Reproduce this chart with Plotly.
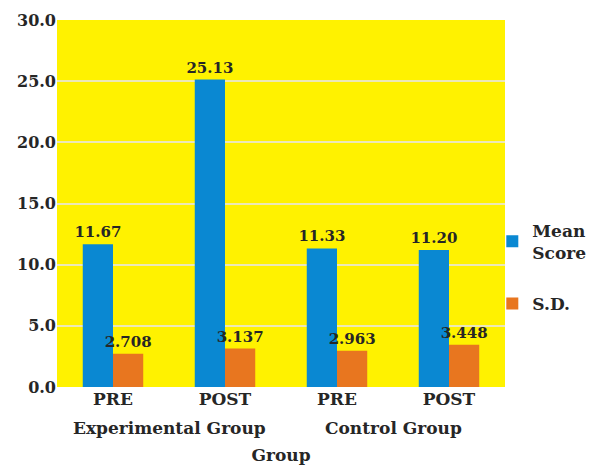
import plotly.graph_objects as go

# Category data: study group, test phase and a unique key per bar pair
groups = ["Experimental Group", "Control Group"]
phases = ["PRE", "POST", "PRE", "POST"]
categories = ["Experimental Group PRE", "Experimental Group POST",
              "Control Group PRE", "Control Group POST"]

mean_scores = [11.67, 25.13, 11.33, 11.20]
sd_values = [2.708, 3.137, 2.963, 3.448]

mean_labels = ["11.67", "25.13", "11.33", "11.20"]
sd_labels = ["2.708", "3.137", "2.963", "3.448"]

font_family = "DejaVu Serif"
text_color = "#262626"
bold = dict(family=font_family, color=text_color, weight="bold")

fig = go.Figure()
fig.add_trace(go.Bar(
    x=categories, y=mean_scores, name="Mean<br>Score",
    marker=dict(color="#0a88d2", line=dict(width=0)),
    text=mean_labels, textposition="outside", constraintext="none",
    textfont=dict(size=15, **bold), cliponaxis=False, legendgroup="a",
))
fig.add_trace(go.Bar(
    x=categories, y=sd_values, name="S.D.",
    marker=dict(color="#e8761f", line=dict(width=0)),
    text=sd_labels, textposition="outside", constraintext="none",
    textfont=dict(size=15, **bold), cliponaxis=False, legendgroup="b",
))

# group names centred under each PRE/POST pair
for i, g in enumerate(groups):
    fig.add_annotation(
        x=2 * i + 0.5, xref="x", y=0, yref="paper", yanchor="middle",
        yshift=-41, text=g, showarrow=False, font=dict(size=17, **bold),
    )

fig.update_layout(
    width=591, height=465,
    margin=dict(l=57, r=86, t=20, b=78, autoexpand=False),
    paper_bgcolor="white", plot_bgcolor="#fff200",
    barmode="group", bargap=0.46, bargroupgap=0,
    font=dict(size=15, **bold),
    showlegend=True,
    legend=dict(x=0.833, xref="container", xanchor="left",
                y=0.475, yanchor="top",
                bgcolor="rgba(0,0,0,0)",
                tracegroupgap=26, traceorder="grouped",
                font=dict(size=17, **bold)),
    xaxis=dict(
        title=dict(text="Group", font=dict(size=17, **bold), standoff=42),
        tickvals=categories, ticktext=phases,
        tickfont=dict(size=17, **bold), ticks="", showline=False,
    ),
    yaxis=dict(
        range=[0, 30], dtick=5, tickformat=".1f",
        showgrid=True, gridcolor="#ece8b8", gridwidth=1.5,
        zeroline=False, tickfont=dict(size=16, **bold), ticks="",
    ),
)

fig.write_html("out.html")
